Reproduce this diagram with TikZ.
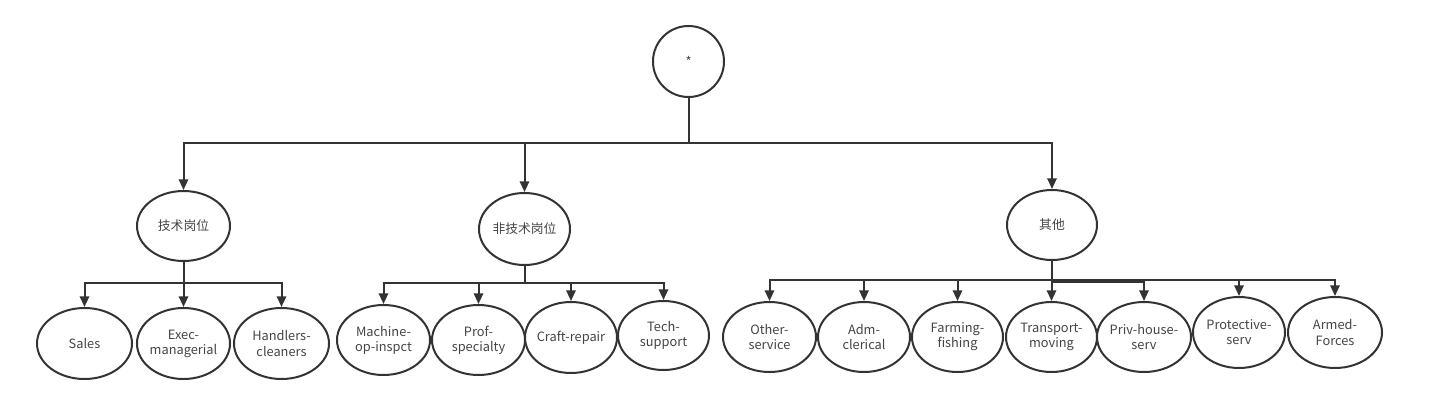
\documentclass[tikz,border=0pt]{standalone}
\usepackage{fontspec}
\setmainfont{Noto Sans CJK SC}
\usetikzlibrary{shapes.geometric,arrows.meta}
\definecolor{lc}{HTML}{333333}
\definecolor{tc}{HTML}{444444}
\tikzset{
  ell/.style={ellipse, draw=lc, line width=1.5pt, inner sep=0pt},
  txt/.style={text=tc, font=\fontsize{9.6}{11.3}\selectfont, align=center, inner sep=0pt},
  arr/.style={draw=lc, line width=1.5pt, -{Triangle[length=8pt,width=7pt]}},
  ln/.style={draw=lc, line width=1.5pt},
}
\newcommand{\ellnode}[6]{% name, x, y, w, h, text
  \node[ell, minimum width=#4*0.75pt, minimum height=#5*0.75pt,
        label={[txt]center:{#6}}] (#1) at (#2,#3) {};}
\begin{document}
\begin{tikzpicture}[x=0.75pt,y=-0.75pt]
\useasboundingbox (0,0) rectangle (1442,407);
% root
\ellnode{root}{688.5}{61.5}{71}{71}{*}
% level 1
\ellnode{tj}{183.5}{226}{93}{70}{技术岗位}
\ellnode{ftj}{524.5}{229}{91}{72}{非技术岗位}
\ellnode{qt}{1052}{225}{90}{70}{其他}
% level 2: tj
\ellnode{sales}{84.5}{343.5}{95}{71}{Sales}
\ellnode{exec}{183.5}{343.5}{93}{71}{Exec-\\managerial}
\ellnode{hand}{281.5}{343.5}{95}{71}{Handlers-\\cleaners}
% level 2: ftj
\ellnode{mach}{383.5}{340}{93}{70}{Machine-\\op-inspct}
\ellnode{prof}{478.5}{340}{93}{70}{Prof-\\specialty}
\ellnode{craft}{571}{337.5}{92}{71}{Craft-repair}
\ellnode{tech}{663.5}{335.5}{91}{69}{Tech-\\support}
% level 2: qt
\ellnode{oth}{769.5}{337}{93}{70}{Other-\\service}
\ellnode{adm}{864}{337}{92}{70}{Adm-\\clerical}
\ellnode{farm}{957.5}{337}{91}{70}{Farming-\\fishing}
\ellnode{trans}{1051.5}{337}{91}{70}{Transport-\\moving}
\ellnode{priv}{1144}{337}{94}{70}{Priv-house-\\serv}
\ellnode{protect}{1239}{332.5}{92}{71}{Protective-\\serv}
\ellnode{armed}{1335}{332.5}{94}{71}{Armed-\\Forces}
% bus coordinates
\coordinate (b0) at (688.5,143);
\coordinate (b1) at (183.5,283);
\coordinate (b2) at (524.5,283);
\coordinate (b3) at (1052,280);
\coordinate (b3b) at (1052,282);
% connectors
\draw[ln] (root.south) -- (b0);
\foreach \c in {tj,ftj,qt} \draw[arr] (b0) -| (\c.north);
\draw[ln] (tj.south) -- (b1);
\foreach \c in {sales,exec,hand} \draw[arr] (b1) -| (\c.north);
\draw[ln] (ftj.south) -- (b2);
\foreach \c in {mach,prof,craft,tech} \draw[arr] (b2) -| (\c.north);
\draw[ln] (qt.south) -- (b3);
\foreach \c in {oth,adm,farm,trans,protect,armed} \draw[arr] (b3) -| (\c.north);
\draw[arr] (b3b) -| (priv.north);
\end{tikzpicture}
\end{document}
